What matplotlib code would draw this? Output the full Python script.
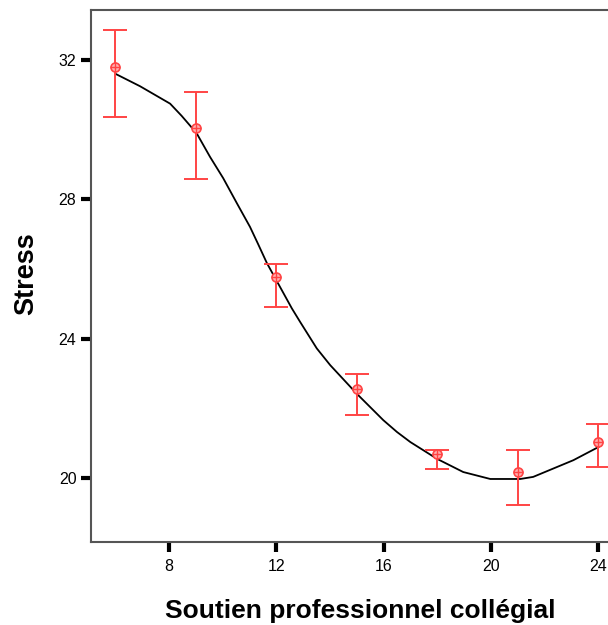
import matplotlib
matplotlib.use('Agg')
import matplotlib.pyplot as plt
import numpy as np

plt.rcParams['font.family'] = ['Liberation Sans', 'DejaVu Sans']

# group means with error bars
support = [6, 9, 12, 15, 18, 21, 24]
stress_mean = [31.80, 30.05, 25.76, 22.55, 20.69, 20.17, 21.04]
stress_hi = [32.86, 31.08, 26.14, 22.98, 20.79, 20.79, 21.54]
stress_lo = [30.37, 28.58, 24.91, 21.82, 20.25, 19.21, 20.30]

# fitted curve
fit_x = [6.02, 6.92, 8.04, 8.47, 9.03, 9.53, 10.02, 10.53, 11.02, 11.32, 11.65,
         12.58, 12.89, 13.51, 14.01, 15.00, 15.99, 16.50, 17.00, 17.99, 18.97,
         19.98, 21.10, 21.58, 23.08, 24.02]
fit_y = [31.60, 31.25, 30.75, 30.40, 29.90, 29.22, 28.61, 27.89, 27.21, 26.72, 26.17,
         24.87, 24.48, 23.72, 23.24, 22.42, 21.66, 21.32, 21.03, 20.55, 20.17,
         19.97, 19.97, 20.03, 20.51, 20.89]

red = '#ff4444'

fig = plt.figure(figsize=(6.08, 6.25), dpi=100)
ax = fig.add_axes([91/608, 83/625, 1 - 91/608, 532/625])

ax.plot(fit_x, fit_y, color='black', lw=1.3, zorder=2)

mean = np.array(stress_mean)
yerr = [mean - np.array(stress_lo), np.array(stress_hi) - mean]
ax.errorbar(support, stress_mean, yerr=yerr, fmt='none', ecolor=red,
            elinewidth=1.4, capsize=8.5, capthick=1.4, zorder=3)
ax.plot(support, stress_mean, 'o', ms=6.5, mfc='#ffb0b0', mec=red, mew=1.2, zorder=4)
ax.plot(support, stress_mean, '+', ms=6.5, mec=red, mew=1.0, zorder=4)

ax.set_xlim(5.09, 24.37)
ax.set_ylim(18.16, 33.44)
ax.set_xticks([8, 12, 16, 20, 24])
ax.set_yticks([20, 24, 28, 32])

for side in ['left', 'top', 'bottom']:
    ax.spines[side].set_color('#555555')
    ax.spines[side].set_linewidth(1.5)
ax.spines['right'].set_visible(False)

ax.tick_params(axis='both', direction='out', length=7.5, width=3, color='black',
               labelsize=11.5, pad=3)
ax.tick_params(axis='x', pad=5)

ax.set_xlabel('Soutien professionnel collégial', fontsize=19, fontweight='bold')
ax.xaxis.set_label_coords((360 - 91) / 517, -0.108)
ax.set_ylabel('Stress', fontsize=19.5, fontweight='bold')
ax.yaxis.set_label_coords(-0.1006, (625 - 273.5 - 83) / 532)

fig.savefig('out.png', dpi=100)
